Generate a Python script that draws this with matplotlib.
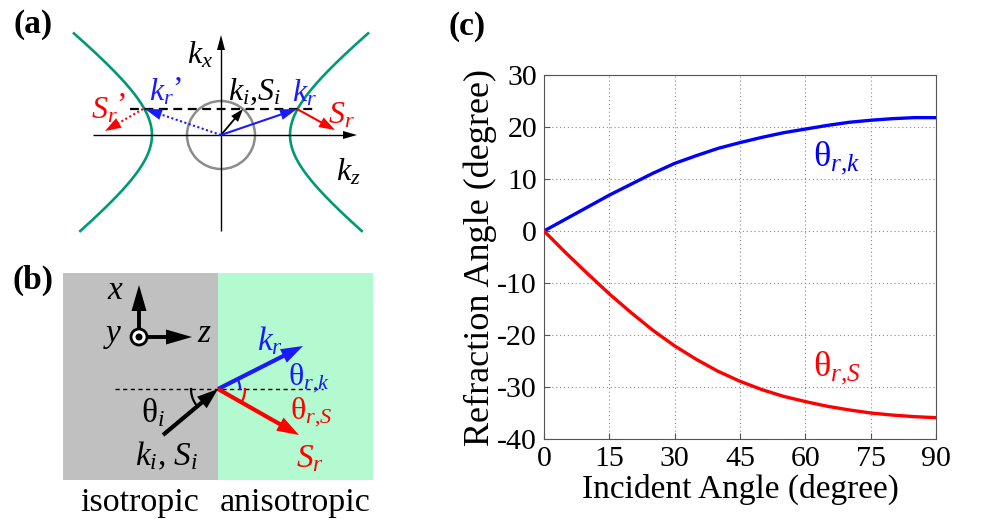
import numpy as np
import matplotlib
matplotlib.use('Agg')
import matplotlib.pyplot as plt
from matplotlib.patches import Rectangle, Circle, Polygon

# ---------------- data (panel c) ----------------
incident_angle = [0, 5, 10, 15, 20, 25, 30, 35, 40, 45, 50, 55, 60, 65, 70, 75, 80, 85, 90]
theta_rk = [0, 2.3, 4.6, 6.9, 9.0, 11.1, 13.0, 14.5, 15.9, 17.0, 18.0, 18.9, 19.6, 20.3, 20.9, 21.3, 21.6, 21.8, 21.8]
theta_rS = [0, -4.2, -8.2, -12.1, -15.7, -19.1, -22.1, -24.7, -27.0, -28.9, -30.5, -31.8, -32.8, -33.7, -34.4, -35.0, -35.4, -35.7, -35.9]
xticks = [0, 15, 30, 45, 60, 75, 90]
yticks = [-40, -30, -20, -10, 0, 10, 20, 30]

# ---------------- style ----------------
plt.rcParams['font.family'] = ['Liberation Serif', 'DejaVu Serif']
plt.rcParams['mathtext.fontset'] = 'custom'
plt.rcParams['mathtext.rm'] = 'Liberation Serif'
plt.rcParams['mathtext.it'] = 'Liberation Serif:italic'
plt.rcParams['mathtext.bf'] = 'Liberation Serif:bold'
plt.rcParams['axes.unicode_minus'] = False

BLUE = '#1a1aff'
RED = '#ff0000'
TEAL = '#009977'

fig = plt.figure(figsize=(10.01, 5.19), dpi=100)
ov = fig.add_axes([0, 0, 1, 1])
ov.set_xlim(0, 1001)
ov.set_ylim(519, 0)
ov.axis('off')


def arrow(x0, y0, x1, y1, color, lw, L, W, ls='-', z=3):
    d = np.array([x1 - x0, y1 - y0], float)
    n = np.linalg.norm(d)
    u = d / n
    p = np.array([-u[1], u[0]])
    tip = np.array([x1, y1], float)
    base = tip - L * u
    ov.plot([x0, base[0] + 0.3 * L * u[0]], [y0, base[1] + 0.3 * L * u[1]],
            color=color, lw=lw, ls=ls, solid_capstyle='butt', zorder=z)
    ov.add_patch(Polygon([tip, base + W * p, base - W * p], closed=True,
                         color=color, lw=0, zorder=z + 0.1))


# ---------------- panel (a) ----------------
cx, cy = 221, 135
a_h, b_h = 69, 54
t = np.linspace(-1.5, 1.5, 300)
for s in (1, -1):
    hx = cx + s * a_h * np.cosh(t)
    hy = cy + b_h * np.sinh(t)
    m = (hy > 33) & (hy < 231)
    ov.plot(hx[m], hy[m], color=TEAL, lw=1.9, zorder=2)
ov.add_patch(Circle((cx, cy), 34, fill=False, ec='#8c8c8c', lw=1.8, zorder=2))
# axes
arrow(93, cy, 357, cy, 'black', 1.0, 14, 4)
arrow(cx, 231, cx, 35, 'black', 1.0, 15, 4)
# dashed line
ov.plot([130, 316], [109, 109], color='black', lw=1.6, ls=(0, (4, 2.5)), zorder=2)
# arrows
arrow(cx, cy, 243, 109, 'black', 1.3, 13, 4.5, z=4)
arrow(cx, cy, 297, 109, BLUE, 1.5, 17, 5.5, z=4)
arrow(297, 109, 335, 130, RED, 1.5, 16, 5.5, z=4)
arrow(cx, cy, 145, 109, BLUE, 1.5, 17, 5.5, ls=(0, (1, 1.2)), z=4)
arrow(143, 109, 105, 131, RED, 1.5, 16, 5.5, ls=(0, (1, 1.2)), z=4)

fs_a = 23
ov.text(200, 55, r'$k_x$', fontsize=fs_a, ha='center', va='center')
ov.text(348, 172, r'$k_z$', fontsize=fs_a, ha='center', va='center')
ov.text(254, 92, r'$k_i{,}S_i$', fontsize=fs_a, ha='center', va='center')
ov.text(304, 93, r'$k_r$', fontsize=fs_a, ha='center', va='center', color=BLUE)
ov.text(341, 116, r'$S_r$', fontsize=fs_a, ha='center', va='center', color=RED)
ov.text(161, 92, r'$k_r$', fontsize=fs_a, ha='center', va='center', color=BLUE)
ov.text(178, 90, '’', fontsize=fs_a, ha='center', va='center', color=BLUE)
ov.text(104, 111, r'$S_r$', fontsize=fs_a, ha='center', va='center', color=RED)
ov.text(122, 106, '’', fontsize=fs_a, ha='center', va='center', color=RED)

# ---------------- panel (b) ----------------
ov.add_patch(Rectangle((63, 273), 155, 207, color='#c0c0c0', lw=0, zorder=1))
ov.add_patch(Rectangle((218, 273), 155, 207, color='#b4fad0', lw=0, zorder=1))
px, py = 218, 389
ov.plot([115, 323], [py, py], color='black', lw=1.0, ls=(0, (3, 2.5)), zorder=2)
arrow(163, 435, px, py, 'black', 3.0, 21, 7.5, z=4)
arrow(px, py, 303, 346, BLUE, 3.0, 22, 7.5, z=4)
arrow(px, py, 299, 435, RED, 3.0, 22, 7.5, z=4)


def arc(r, a0, a1, color):
    ang = np.radians(np.linspace(a0, a1, 30))
    ov.plot(px + r * np.cos(ang), py - r * np.sin(ang), color=color, lw=1.6, zorder=5)


arc(27, 180, 218, 'black')
arc(22, 0, 26, BLUE)
arc(27, 0, -30, RED)

# coordinate symbol
ox, oy = 139, 337
arrow(ox, oy - 8, ox, 285, 'black', 2.8, 26, 7.5)
arrow(ox + 8, oy, 192, oy, 'black', 2.8, 26, 7.5)
ov.add_patch(Circle((ox, oy), 8, fc='white', ec='black', lw=2.0, zorder=6))
ov.add_patch(Circle((ox, oy), 3.5, fc='black', ec='none', zorder=7))

fs_b = 24
ov.text(115, 291, r'$x$', fontsize=fs_b, ha='center', va='center')
ov.text(113, 336, r'$y$', fontsize=fs_b, ha='center', va='center')
ov.text(204, 334, r'$z$', fontsize=fs_b, ha='center', va='center')
ov.text(153, 413, r'$\mathrm{\theta}_i$', fontsize=fs_b, ha='center', va='center')
ov.text(167, 456, r'$k_i$, $S_i$', fontsize=fs_b, ha='center', va='center')
ov.text(270, 341, r'$k_r$', fontsize=fs_b, ha='center', va='center', color=BLUE)
ov.text(309, 378, r'$\mathrm{\theta}_{r{,}k}$', fontsize=fs_b - 1, ha='center', va='center', color=BLUE)
ov.text(311, 412, r'$\mathrm{\theta}_{r{,}S}$', fontsize=fs_b - 1, ha='center', va='center', color=RED)
ov.text(310, 459, r'$S_r$', fontsize=fs_b, ha='center', va='center', color=RED)
ov.text(140, 503, 'isotropic', fontsize=24.5, ha='center', va='center')
ov.text(295, 503, 'anisotropic', fontsize=24.5, ha='center', va='center')

# panel labels
ov.text(33, 25, '(a)', fontsize=24, fontweight='bold', ha='center', va='center')
ov.text(33, 280, '(b)', fontsize=24, fontweight='bold', ha='center', va='center')
ov.text(467, 27, '(c)', fontsize=24, fontweight='bold', ha='center', va='center')

# ---------------- panel (c) ----------------
ax = fig.add_axes([544 / 1001, 80 / 519, 392 / 1001, 364 / 519])
ax.plot(incident_angle, theta_rk, color='#0000ff', lw=2.4, zorder=3)
ax.plot(incident_angle, theta_rS, color=RED, lw=2.4, zorder=3)
ax.set_xlim(0, 90)
ax.set_ylim(-40, 30)
ax.set_xticks(xticks)
ax.set_yticks(yticks)
ax.grid(True, linestyle=(0, (1, 2.5)), color='#8a8a8a', lw=0.8)
ax.tick_params(direction='in', length=4, labelsize=21.5, pad=5, color='#555555')
for sp in ax.spines.values():
    sp.set_color('#555555')
    sp.set_linewidth(0.8)
ax.set_xlabel('Incident Angle (degree)', fontsize=24, labelpad=1)
ax.set_ylabel('Refraction Angle (degree)', fontsize=26, labelpad=0)
ax.text(61.8, 14.2, r'$\mathrm{\theta}_{r{,}k}$', fontsize=26, color='#0000ff', ha='left', va='center')
ax.text(61.8, -26.3, r'$\mathrm{\theta}_{r{,}S}$', fontsize=26, color=RED, ha='left', va='center')

fig.savefig('out.png', dpi=100)
